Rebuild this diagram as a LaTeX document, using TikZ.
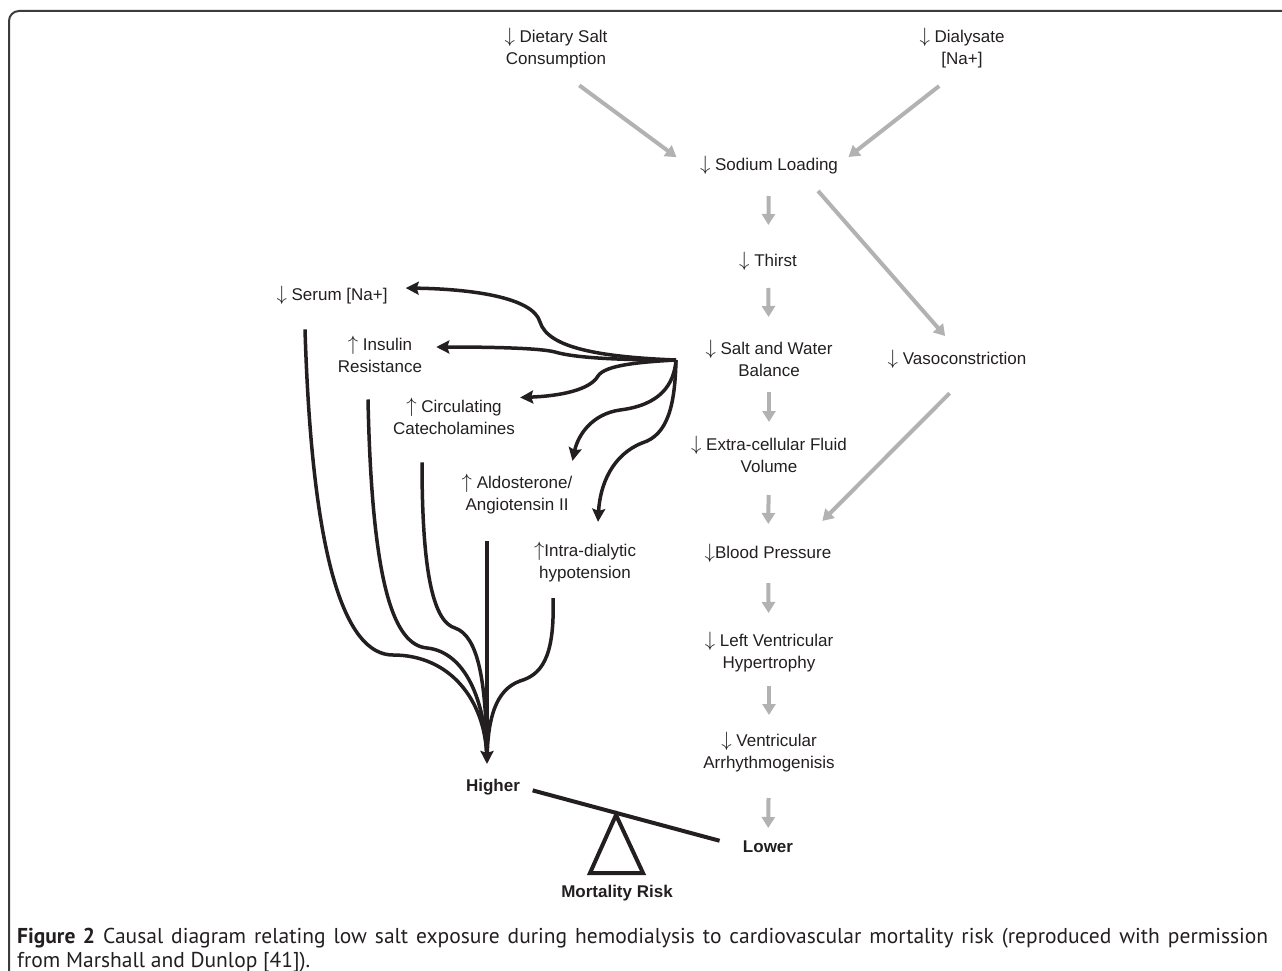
\documentclass[tikz,border=0pt]{standalone}
\usepackage{fontspec}
\setmainfont{Liberation Sans}
\newfontfamily\capfont{PT Sans}
\usetikzlibrary{arrows.meta,positioning,calc}
\definecolor{ink}{RGB}{35,31,32}
\definecolor{arrowgray}{RGB}{178,178,178}
\definecolor{framegray}{RGB}{60,60,60}
\newcommand{\dn}{{\fontsize{21}{22}\selectfont$\downarrow$}}
\newcommand{\up}{{\fontsize{21}{22}\selectfont$\uparrow$}}

\begin{document}
\begin{tikzpicture}[x=1pt,y=-1pt,
	every node/.style={text=ink,font=\fontsize{17}{22}\selectfont,align=center,inner sep=0pt},
	grayarrow/.style={draw=arrowgray,line width=4pt,-{Triangle[length=11pt,width=13pt]}},
	fan/.style={draw=ink,line width=3.5pt},
	fanarrow/.style={fan,-{Stealth[length=13pt,width=13pt,inset=2pt]}},
	bold/.style={font=\fontsize{17}{22}\selectfont\bfseries}]

	\useasboundingbox (0,0) rectangle (1282,971);
	\draw[framegray,line width=2pt,rounded corners=10pt] (9,971) -- (9,11) -- (1282,11);

	% causes and the grey chain
	\node (diet) at (556,48) {\dn{} Dietary Salt\\Consumption};
	\node (dialysate) at (962,48) {\dn{} Dialysate\\{[Na+]}};
	\node (sodium) at (769,165) {\dn{} Sodium Loading};
	\node (thirst) at (768,261) {\dn{} Thirst};
	\node (salt) at (769,358) {\dn{} Salt and Water\\Balance};
	\node (ecf) at (769,454) {\dn{} Extra-cellular Fluid\\Volume};
	\node (bp) at (768,553) {\dn{}Blood Pressure};
	\node (lvh) at (769,652) {\dn{} Left Ventricular\\Hypertrophy};
	\node (va) at (769,752) {\dn{} Ventricular\\Arrhythmogenisis};
	\node (vaso) at (957,359) {\dn{} Vasoconstriction};

	% side effects
	\node (serum) at (332,295) {\dn{} Serum [Na+]};
	\node (insulin) at (380,354) {\up{} Insulin\\Resistance};
	\node (circ) at (454,416) {\up{} Circulating\\Catecholamines};
	\node (aldo) at (517,494) {\up{} Aldosterone/\\Angiotensin II};
	\node (intra) at (585,562) {\up{}Intra-dialytic\\hypotension};

	% the balance
	\node[bold] (higher) at (493,787) {Higher};
	\node[bold] (lower) at (768,847) {Lower};
	\node[bold] (mortality) at (617,893) {Mortality Risk};

	\draw[grayarrow,shorten <=29pt,shorten >=29pt] (diet.south) -- (sodium.south west);
	\draw[grayarrow,shorten <=29pt,shorten >=13pt] (dialysate.south) -- (sodium.east);
	\draw[grayarrow,shorten <=31pt,shorten >=36pt] (sodium.center) -- (thirst.center);
	\draw[grayarrow,shorten <=27pt,shorten >=41pt] (thirst.center) -- (salt.center);
	\draw[grayarrow,shorten <=34pt,shorten >=32pt] (salt.center) -- (ecf.center);
	\draw[grayarrow,shorten <=41pt,shorten >=29pt] (ecf.center) -- (bp.center);
	\draw[grayarrow,shorten <=30pt,shorten >=39pt] (bp.center) -- (lvh.center);
	\draw[grayarrow,shorten <=34pt,shorten >=37pt] (lvh.center) -- (va.center);
	\draw[grayarrow,shorten <=46pt,shorten >=19pt] (va.center) -- (lower.center);
	\draw[grayarrow,shorten <=22pt,shorten >=18pt] ($(sodium.south)!.5!(sodium.south east)$) -- (vaso.north);
	\draw[grayarrow,shorten <=35pt,shorten >=32pt] ($(vaso.south)!.25!(vaso.south east)$) -- ($(bp.north)!.5!(bp.north east)$);

	% fan out from salt and water balance
	\coordinate (hub) at (676,360);
	\draw[fanarrow] (hub) .. controls (600,357) and (548,348) .. (540,322) .. controls (533,297) and (470,289) .. ([xshift=18pt,yshift=7pt]serum.east);
	\draw[fanarrow] (hub) .. controls (620,360) and (575,358) .. (555,352) .. controls (540,348) and (490,347) .. ([xshift=14pt,yshift=7pt]insulin.east);
	\draw[fanarrow] (hub) .. controls (640,362) and (605,365) .. (598,376) .. controls (590,390) and (560,396) .. ([xshift=5pt]circ.north east);
	\draw[fanarrow] (hub) .. controls (674,385) and (660,405) .. (620,410) .. controls (592,414) and (578,435) .. ([yshift=13pt]aldo.north east);
	\draw[fanarrow] (hub) .. controls (675,405) and (668,435) .. (642,443) .. controls (612,455) and (600,485) .. ([xshift=13pt,yshift=20pt]intra.north);

	% fan in to higher risk
	\coordinate (merge) at (487,764);
	\draw[fan,shorten >=8pt] ([xshift=-27pt,yshift=-25pt]serum.south) .. controls (312,560) and (345,655) .. (393,655) .. controls (450,655) and (485,700) .. (merge);
	\draw[fan,shorten >=8pt] ([xshift=-12pt,yshift=-27pt]insulin.south) .. controls (372,590) and (395,645) .. (427,648) .. controls (465,652) and (485,700) .. (merge);
	\draw[fan,shorten >=8pt] ([xshift=-32pt,yshift=-28pt]circ.south) .. controls (422,580) and (435,622) .. (455,628) .. controls (478,636) and (486,680) .. (merge);
	\draw[fan,shorten >=8pt] ([xshift=-32pt,yshift=-16pt]intra.south) .. controls (555,660) and (540,675) .. (520,681) .. controls (495,690) and (488,720) .. (merge);
	\draw[fanarrow] ([xshift=-30pt,yshift=-27pt]aldo.south) -- (merge);

	\draw[ink,line width=4pt,shorten <=13pt,shorten >=24pt] (higher.east) -- (lower.west);
	\draw[ink,line width=4pt] (616,815) -- (643,873) -- (590,873) -- cycle;

	\node[anchor=north west,text width=1251pt,align=justify,font=\capfont\fontsize{21.5}{24}\selectfont] (caption) at (17,928)
		{\textbf{Figure 2} Causal diagram relating low salt exposure during hemodialysis to cardiovascular mortality risk (reproduced with permission\linebreak from Marshall and Dunlop [41]).};
\end{tikzpicture}
\end{document}
